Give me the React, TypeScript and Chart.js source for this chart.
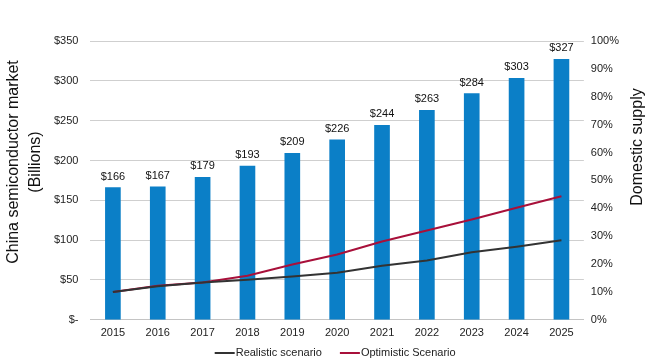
import React, { useEffect, useRef } from "react";
import { Chart, registerables } from "chart.js";

Chart.register(...registerables);

const years = ["2015", "2016", "2017", "2018", "2019", "2020", "2021", "2022", "2023", "2024", "2025"];
const marketBillions = [166, 167, 179, 193, 209, 226, 244, 263, 284, 303, 327];
const realisticPct = [10, 12, 13.4, 14.4, 15.5, 16.9, 19.4, 21.3, 24.2, 26.2, 28.5];
const optimisticPct = [10, 12.2, 13.4, 15.8, 19.8, 23.4, 28.1, 32, 36, 40.2, 44.3];
const leftTitle = ["China semiconductor market", "(Billions)"];
const rightTitle = "Domestic supply";

const FONT = "'Liberation Sans', Arial, sans-serif";

const decorations = {
  id: "decorations",
  afterDatasetsDraw(chart: any) {
    const ctx = chart.ctx;
    const area = chart.chartArea;
    // bar value labels
    chart.data.datasets.forEach((ds: any, i: number) => {
      if (ds.type !== "bar") return;
      const meta = chart.getDatasetMeta(i);
      ctx.save();
      ctx.font = `11px ${FONT}`;
      ctx.fillStyle = "#111";
      ctx.textAlign = "center";
      ctx.textBaseline = "alphabetic";
      meta.data.forEach((el: any, j: number) => {
        ctx.fillText("$" + ds.data[j], el.x, el.y - 8);
      });
      ctx.restore();
    });
    // axis titles (both read bottom-to-top)
    ctx.save();
    ctx.font = `16px ${FONT}`;
    ctx.fillStyle = "#111";
    ctx.textAlign = "center";
    ctx.textBaseline = "middle";
    const cyLeft = 162;
    ctx.save();
    ctx.translate(14, cyLeft);
    ctx.rotate(-Math.PI / 2);
    ctx.fillText(leftTitle[0], 0, 0);
    ctx.restore();
    ctx.save();
    ctx.translate(36, cyLeft);
    ctx.rotate(-Math.PI / 2);
    ctx.fillText(leftTitle[1], 0, 0);
    ctx.restore();
    ctx.save();
    ctx.translate(638, 147);
    ctx.rotate(-Math.PI / 2);
    ctx.fillText(rightTitle, 0, 0);
    ctx.restore();
    ctx.restore();
    // legend
    const lines = chart.data.datasets.filter((d: any) => d.type === "line");
    ctx.save();
    ctx.font = `11px ${FONT}`;
    ctx.textBaseline = "middle";
    ctx.textAlign = "left";
    const seg = 20;
    const gap = 1;
    const between = 18;
    const widths = lines.map((d: any) => seg + gap + ctx.measureText(d.label).width);
    const total = widths.reduce((a: number, b: number) => a + b, 0) + between * (lines.length - 1);
    let x = (area.left + area.right) / 2 - 2 - total / 2;
    const y = 353;
    lines.forEach((d: any, k: number) => {
      ctx.strokeStyle = d.borderColor;
      ctx.lineWidth = 2;
      ctx.beginPath();
      ctx.moveTo(x, y);
      ctx.lineTo(x + seg, y);
      ctx.stroke();
      ctx.fillStyle = "#222";
      ctx.fillText(d.label, x + seg + gap, y);
      x += widths[k] + between;
    });
    ctx.restore();
  },
};

export default function App() {
  const ref = useRef<HTMLCanvasElement>(null);
  useEffect(() => {
    if (!ref.current) return;
    const chart = new Chart(ref.current, {
      type: "bar",
      data: {
        labels: years,
        datasets: [
          {
            type: "line",
            label: "Realistic scenario",
            data: realisticPct,
            yAxisID: "y1",
            borderColor: "#333333",
            backgroundColor: "#333333",
            borderWidth: 2,
            pointRadius: 0,
            tension: 0,
            order: 1,
          },
          {
            type: "line",
            label: "Optimistic Scenario",
            data: optimisticPct,
            yAxisID: "y1",
            borderColor: "#a8103a",
            backgroundColor: "#a8103a",
            borderWidth: 2,
            pointRadius: 0,
            tension: 0,
            order: 1,
          },
          {
            type: "bar",
            label: "Market",
            data: marketBillions,
            yAxisID: "y",
            backgroundColor: "#0b7fc7",
            barThickness: 15,
            order: 2,
          } as any,
        ],
      },
      options: {
        animation: false,
        responsive: false,
        layout: { padding: { left: 42, right: 24, top: 41, bottom: 17 } },
        plugins: {
          legend: { display: false },
          tooltip: { enabled: false },
        },
        scales: {
          x: {
            grid: { display: false, drawTicks: false },
            border: { color: "#c4c4c4" },
            ticks: { color: "#222", font: { family: FONT, size: 11 }, padding: 7 },
          },
          y: {
            position: "left",
            min: 0,
            max: 350,
            ticks: {
              stepSize: 50,
              padding: 12,
              color: "#222",
              font: { family: FONT, size: 11 },
              callback: (v: any) => (v === 0 ? "$-" : "$" + v),
            },
            grid: { color: "#cfcfcf", drawTicks: false },
            border: { display: false },
          },
          y1: {
            position: "right",
            min: 0,
            max: 100,
            ticks: {
              stepSize: 10,
              padding: 7,
              color: "#222",
              font: { family: FONT, size: 11 },
              callback: (v: any) => v + "%",
            },
            grid: { display: false, drawTicks: false },
            border: { display: false },
          },
        },
      },
      plugins: [decorations],
    });
    return () => chart.destroy();
  }, []);
  return (
    <div style={{ position: "fixed", left: 0, top: 0, width: 650, height: 364, background: "#fff" }}>
      <canvas ref={ref} width={650} height={364} />
    </div>
  );
}
